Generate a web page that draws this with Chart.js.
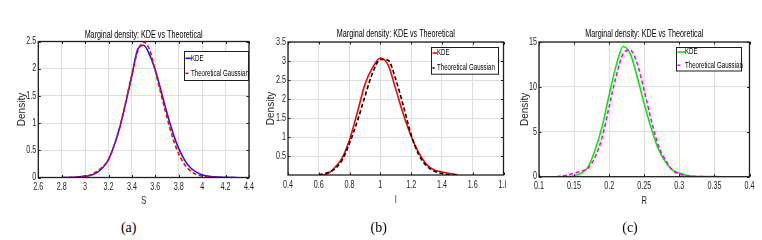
<!DOCTYPE html>
<html>
<head>
<meta charset="utf-8">
<script src="https://cdn.jsdelivr.net/npm/chart.js@4.4.1/dist/chart.umd.min.js"></script>
<style>
  body { margin: 0; width: 762px; height: 240px; background: #fff; overflow: hidden; position: relative; }
  .panel { position: absolute; top: 0; background: #fff; }
  .cap { position: absolute; top: 220px; line-height: 16px; font-size: 14px; font-family: 'Liberation Serif', 'Times New Roman', serif; transform: translateX(-50%); }
</style>
</head>
<body>
<div class="panel" style="left:0px"><canvas id="chartA" width="262" height="215"></canvas></div>
<div class="panel" style="left:258px"><canvas id="chartB" width="262" height="215"></canvas></div>
<div class="panel" style="left:506px"><canvas id="chartC" width="256" height="215"></canvas></div>
<div class="cap" style="left:128.7px">(a)</div>
<div class="cap" style="left:378.7px">(b)</div>
<div class="cap" style="left:630px">(c)</div>

<script>
const FONT = "'Liberation Sans', Arial, sans-serif";
const SQUEEZE = 0.72;   // the figure was shrunk sideways, so horizontal text is narrow
const GRID = '#dedede';
const AXIS = '#1e1e1e';
const TITLE = 'Marginal density: KDE vs Theoretical';

// (a) marginal of S
const sX = [2.8, 2.9, 3.0, 3.05, 3.1, 3.15, 3.2, 3.25, 3.3, 3.35, 3.4, 3.45, 3.5, 3.55, 3.6, 3.65, 3.7, 3.75, 3.8, 3.85, 3.9, 3.95, 4.0, 4.05, 4.1, 4.2, 4.3];
const sKde = [0, 0.003, 0.02, 0.04, 0.09, 0.18, 0.33, 0.6, 0.95, 1.4, 1.88, 2.36, 2.43, 2.26, 1.97, 1.58, 1.18, 0.82, 0.53, 0.32, 0.18, 0.1, 0.05, 0.025, 0.012, 0.004, 0];
const sGauss = [0, 0.003, 0.025, 0.05, 0.11, 0.2, 0.33, 0.6, 0.96, 1.42, 1.9, 2.32, 2.49, 2.35, 1.95, 1.52, 1.1, 0.72, 0.43, 0.24, 0.12, 0.055, 0.025, 0.01, 0.004, 0, 0];
const sXTicks = [2.6, 2.8, 3, 3.2, 3.4, 3.6, 3.8, 4, 4.2, 4.4];
const sYTicks = [0, 0.5, 1, 1.5, 2, 2.5];

// (b) marginal of I
const iX = [0.6, 0.65, 0.7, 0.75, 0.8, 0.85, 0.9, 0.95, 1.0, 1.05, 1.1, 1.15, 1.2, 1.25, 1.3, 1.35, 1.4, 1.45, 1.5];
const iKde = [0, 0.02, 0.18, 0.44, 0.93, 1.64, 2.39, 2.83, 3.08, 2.9, 2.26, 1.59, 1.02, 0.58, 0.28, 0.13, 0.08, 0.04, 0.01];
const iGauss = [0.01, 0.05, 0.15, 0.38, 0.84, 1.41, 2.07, 2.69, 3.04, 3.02, 2.52, 1.81, 1.06, 0.53, 0.24, 0.1, 0.04, 0.01, 0];
const iXTicks = [0.4, 0.6, 0.8, 1, 1.2, 1.4, 1.6, 1.8];
const iYTicks = [0.5, 1, 1.5, 2, 2.5, 3, 3.5];

// (c) marginal of R
const rX = [0.125, 0.14, 0.15, 0.16, 0.17, 0.18, 0.19, 0.2, 0.21, 0.22, 0.23, 0.24, 0.25, 0.26, 0.27, 0.28, 0.29, 0.3, 0.31, 0.32, 0.33, 0.34, 0.36];
const rKde = [0, 0.02, 0.1, 0.4, 1.1, 3.0, 5.6, 9.1, 12.4, 14.5, 13.7, 11.1, 8.1, 5.4, 3.1, 1.7, 0.75, 0.4, 0.15, 0.05, 0.02, 0.01, 0];
const rGauss = [0, 0.15, 0.4, 0.6, 0.95, 2.2, 4.4, 7.8, 11.2, 13.7, 14.1, 12.6, 9.6, 6.3, 3.5, 1.9, 0.75, 0.3, 0.1, 0.04, 0.01, 0, null];
const rXTicks = [0.1, 0.15, 0.2, 0.25, 0.3, 0.35, 0.4];
const rYTicks = [0, 5, 10, 15];

const pts = (xs, ys) => xs.map((x, i) => ({ x: x, y: ys[i] }));

// squeeze horizontal text on a canvas; rotated text (the y title) is left alone
function squeezeText(canvas, k) {
  const ctx = canvas.getContext('2d');
  const fill = ctx.fillText.bind(ctx);
  ctx.fillText = function (text, x, y, maxWidth) {
    const m = ctx.getTransform();
    if (Math.abs(m.b) > 1e-6) {
      return maxWidth === undefined ? fill(text, x, y) : fill(text, x, y, maxWidth);
    }
    const w = ctx.measureText(text).width * k;
    return fill(text, x, y, maxWidth === undefined ? w : Math.min(w, maxWidth));
  };
  return canvas;
}

// box, inner tick marks and the MATLAB-style legend
const framePlugin = {
  id: 'frame',
  afterDraw(chart, args, opts) {
    const { ctx, chartArea: a, scales } = chart;
    ctx.save();
    ctx.strokeStyle = AXIS;
    ctx.lineWidth = 1;
    ctx.beginPath();
    scales.x.ticks.forEach(t => {
      const px = Math.round(scales.x.getPixelForValue(t.value)) + 0.5;
      ctx.moveTo(px, a.bottom); ctx.lineTo(px, a.bottom - 2.5);
      ctx.moveTo(px, a.top); ctx.lineTo(px, a.top + 2.5);
    });
    scales.y.ticks.forEach(t => {
      const py = Math.round(scales.y.getPixelForValue(t.value)) + 0.5;
      ctx.moveTo(a.left, py); ctx.lineTo(a.left + 2.5, py);
      ctx.moveTo(a.right, py); ctx.lineTo(a.right - 2.5, py);
    });
    ctx.stroke();
    ctx.lineWidth = 1.3;
    ctx.strokeRect(a.left, a.top, a.width, a.height);

    const L = opts.legend;
    const bx = Math.round(a.right - L.gapRight - L.w);
    const by = Math.round(a.top + L.gapTop);
    ctx.fillStyle = '#fff';
    ctx.fillRect(bx, by, L.w, L.h);
    ctx.lineWidth = 1;
    ctx.strokeStyle = AXIS;
    ctx.strokeRect(bx + 0.5, by + 0.5, L.w, L.h);
    chart.data.datasets.forEach((ds, i) => {
      const y = by + L.rows[i];
      ctx.strokeStyle = ds.borderColor;
      ctx.lineWidth = ds.borderWidth;
      ctx.beginPath();
      ctx.moveTo(bx + 1.5, y);
      ctx.lineTo(bx + 1.5 + (ds.borderDash ? L.dashLen : L.sampleLen), y);
      ctx.stroke();
      ctx.fillStyle = '#000';
      ctx.font = '8.5px ' + FONT;
      ctx.textBaseline = 'middle';
      ctx.textAlign = 'left';
      ctx.fillText(ds.label, bx + L.textX, y);
    });
    ctx.restore();
  }
};

function makeChart(id, series, axes, geo) {
  return new Chart(squeezeText(document.getElementById(id), SQUEEZE), {
    type: 'line',
    data: {
      datasets: [
        { label: 'KDE', data: pts(series.x, series.kde), borderColor: series.kdeColor, borderWidth: 1.6,
          pointRadius: 0, cubicInterpolationMode: 'monotone', order: 1 },
        { label: 'Theoretical Gaussian', data: pts(series.x, series.gauss), borderColor: series.gaussColor, borderWidth: 1.6,
          borderDash: [4, 2.5], pointRadius: 0, cubicInterpolationMode: 'monotone', spanGaps: false, order: 0 }
      ]
    },
    options: {
      responsive: false,
      animation: false,
      layout: { padding: { left: 0, top: 0, right: geo.padRight, bottom: 0 } },
      plugins: {
        legend: { display: false },
        tooltip: { enabled: false },
        title: {
          display: true, text: TITLE, fullSize: false, color: '#000',
          font: { family: FONT, size: 10, weight: 'normal', lineHeight: 1.08 },
          padding: { top: geo.titleTop, bottom: geo.titleBottom }
        },
        frame: { legend: geo.legend }
      },
      scales: {
        x: {
          type: 'linear', min: axes.xTicks[0], max: axes.xTicks[axes.xTicks.length - 1],
          afterBuildTicks: s => { s.ticks = axes.xTicks.map(v => ({ value: v })); },
          afterFit: s => { s.height = geo.xH; },
          grid: { color: GRID, drawTicks: false },
          border: { display: false },
          ticks: { padding: 4.5, color: AXIS, maxRotation: 0, autoSkip: false,
                   font: { family: FONT, size: 10, lineHeight: 1.1 }, callback: v => String(v) },
          title: { display: true, text: axes.xLabel, color: axes.xLabelColor,
                   font: { family: FONT, size: 10.5 }, padding: { top: 0, bottom: geo.xTitlePad } }
        },
        y: {
          min: 0, max: axes.yMax,
          afterBuildTicks: s => { s.ticks = axes.yTicks.map(v => ({ value: v })); },
          afterFit: s => { s.width = geo.yW; },
          grid: { color: GRID, drawTicks: false },
          border: { display: false },
          ticks: { padding: 2, color: AXIS, font: { family: FONT, size: 10 }, callback: v => String(v) },
          title: { display: true, text: 'Density', color: AXIS,
                   font: { family: FONT, size: 10 }, padding: { top: geo.yTitlePad, bottom: 0 } }
        }
      }
    },
    plugins: [framePlugin]
  });
}

makeChart('chartA',
  { x: sX, kde: sKde, gauss: sGauss, kdeColor: '#1a1aff', gaussColor: '#ff0000' },
  { xTicks: sXTicks, yTicks: sYTicks, yMax: 2.5, xLabel: 'S', xLabelColor: AXIS },
  { padRight: 13, yW: 38.3, xH: 37.5, titleTop: 29.6, titleBottom: 1.1, yTitlePad: 16.2, xTitlePad: 7.5,
    legend: { gapRight: 1.3, gapTop: 9.5, w: 64, h: 29, rows: [7.3, 22.3], sampleLen: 6, dashLen: 3, textX: 7 } });

makeChart('chartB',
  { x: iX, kde: iKde, gauss: iGauss, kdeColor: '#ff0000', gaussColor: '#000000' },
  { xTicks: iXTicks, yTicks: iYTicks, yMax: 3.5, xLabel: 'I', xLabelColor: '#990000' },
  { padRight: 16.5, yW: 30, xH: 40, titleTop: 28.9, titleBottom: 2.3, yTitlePad: 7.7, xTitlePad: 9,
    legend: { gapRight: 5.8, gapTop: 5, w: 67, h: 26.7, rows: [6, 21], sampleLen: 4.5, dashLen: 2, textX: 6 } });

makeChart('chartC',
  { x: rX, kde: rKde, gauss: rGauss, kdeColor: '#00ee00', gaussColor: '#ff00ff' },
  { xTicks: rXTicks, yTicks: rYTicks, yMax: 15, xLabel: 'R', xLabelColor: AXIS },
  { padRight: 12.5, yW: 33, xH: 38.3, titleTop: 28.6, titleBottom: 2.6, yTitlePad: 13.3, xTitlePad: 8,
    legend: { gapRight: 8.8, gapTop: 5, w: 65, h: 23.5, rows: [5, 18.3], sampleLen: 8, dashLen: 3, textX: 9 } });
</script>
</body>
</html>
